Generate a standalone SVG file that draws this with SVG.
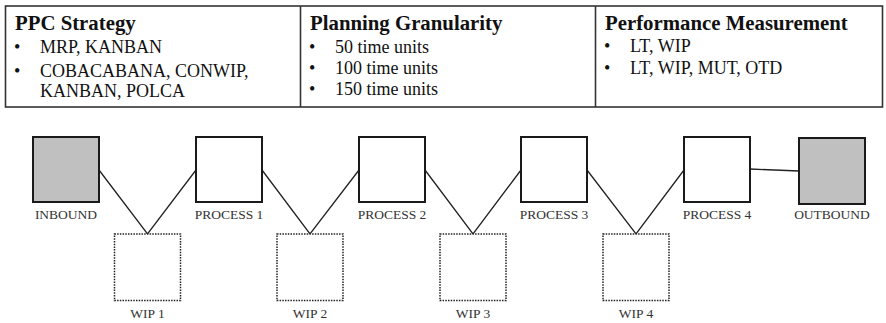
<svg xmlns="http://www.w3.org/2000/svg" width="886" height="323" viewBox="0 0 886 323">
<style>
.t{font-family:"Liberation Serif","Times New Roman",serif;fill:#111}
.h{font-size:20.8px;font-weight:bold}
.b{font-size:18px}
.lbl{font-family:"Liberation Serif","Times New Roman",serif;font-size:13.5px;fill:#333;text-anchor:middle}
.proc{fill:#fff;stroke:#1a1a1a;stroke-width:2}
.end{fill:#c0c0c0;stroke:#1a1a1a;stroke-width:2}
.wip{fill:#fff;stroke:#222;stroke-width:1.5;stroke-dasharray:1.5 1.2}
.tbl{fill:none;stroke:#333;stroke-width:1.6}
.con{fill:none;stroke:#222;stroke-width:1.3}
</style>
<g id="table">
<rect class="tbl" x="5.5" y="6" width="877" height="101"/>
<line class="tbl" x1="300.5" y1="6" x2="300.5" y2="107"/>
<line class="tbl" x1="595.5" y1="6" x2="595.5" y2="107"/>
</g>
<g id="ppc-strategy">
<text class="t h" x="15" y="30">PPC Strategy</text>
<text class="t b" x="14" y="53">•</text><text class="t b" x="40" y="53">MRP, KANBAN</text>
<text class="t b" x="14" y="77">•</text><text class="t b" x="40" y="77">COBACABANA, CONWIP,</text>
<text class="t b" x="40" y="97">KANBAN, POLCA</text>
</g>
<g id="planning-granularity">
<text class="t h" x="310" y="30">Planning Granularity</text>
<text class="t b" x="309" y="53">•</text><text class="t b" x="335" y="53">50 time units</text>
<text class="t b" x="309" y="74">•</text><text class="t b" x="335" y="74">100 time units</text>
<text class="t b" x="309" y="95">•</text><text class="t b" x="335" y="95">150 time units</text>
</g>
<g id="performance-measurement">
<text class="t h" x="605" y="30">Performance Measurement</text>
<text class="t b" x="604" y="52">•</text><text class="t b" x="630" y="52">LT, WIP</text>
<text class="t b" x="604" y="74">•</text><text class="t b" x="630" y="74">LT, WIP, MUT, OTD</text>
</g>
<g id="connectors">
<polyline class="con" points="99,170 147.5,234 196,170"/>
<polyline class="con" points="262,170 310,234 359,170"/>
<polyline class="con" points="425,170 473,234 521,170"/>
<polyline class="con" points="587,170 636,234 684,170"/>
<line class="con" x1="750" y1="169" x2="799" y2="171"/>
</g>
<g id="inbound">
<rect class="end" x="33" y="137" width="66" height="65"/>
<text class="lbl" x="66" y="219">INBOUND</text>
</g>
<g id="process-1">
<rect class="proc" x="196" y="137" width="66" height="65"/>
<text class="lbl" x="229" y="219">PROCESS 1</text>
</g>
<g id="process-2">
<rect class="proc" x="359" y="137" width="66" height="65"/>
<text class="lbl" x="392" y="219">PROCESS 2</text>
</g>
<g id="process-3">
<rect class="proc" x="521" y="137" width="66" height="65"/>
<text class="lbl" x="554" y="219">PROCESS 3</text>
</g>
<g id="process-4">
<rect class="proc" x="684" y="137" width="66" height="65"/>
<text class="lbl" x="717" y="219">PROCESS 4</text>
</g>
<g id="outbound">
<rect class="end" x="799" y="138" width="66" height="66"/>
<text class="lbl" x="832" y="219">OUTBOUND</text>
</g>
<g id="wip-1">
<rect class="wip" x="114.5" y="234" width="66" height="66.5"/>
<text class="lbl" x="147.5" y="318">WIP 1</text>
</g>
<g id="wip-2">
<rect class="wip" x="277" y="234" width="66" height="66.5"/>
<text class="lbl" x="310" y="318">WIP 2</text>
</g>
<g id="wip-3">
<rect class="wip" x="440" y="234" width="66" height="66.5"/>
<text class="lbl" x="473" y="318">WIP 3</text>
</g>
<g id="wip-4">
<rect class="wip" x="603" y="234" width="66" height="66.5"/>
<text class="lbl" x="636" y="318">WIP 4</text>
</g>
</svg>
